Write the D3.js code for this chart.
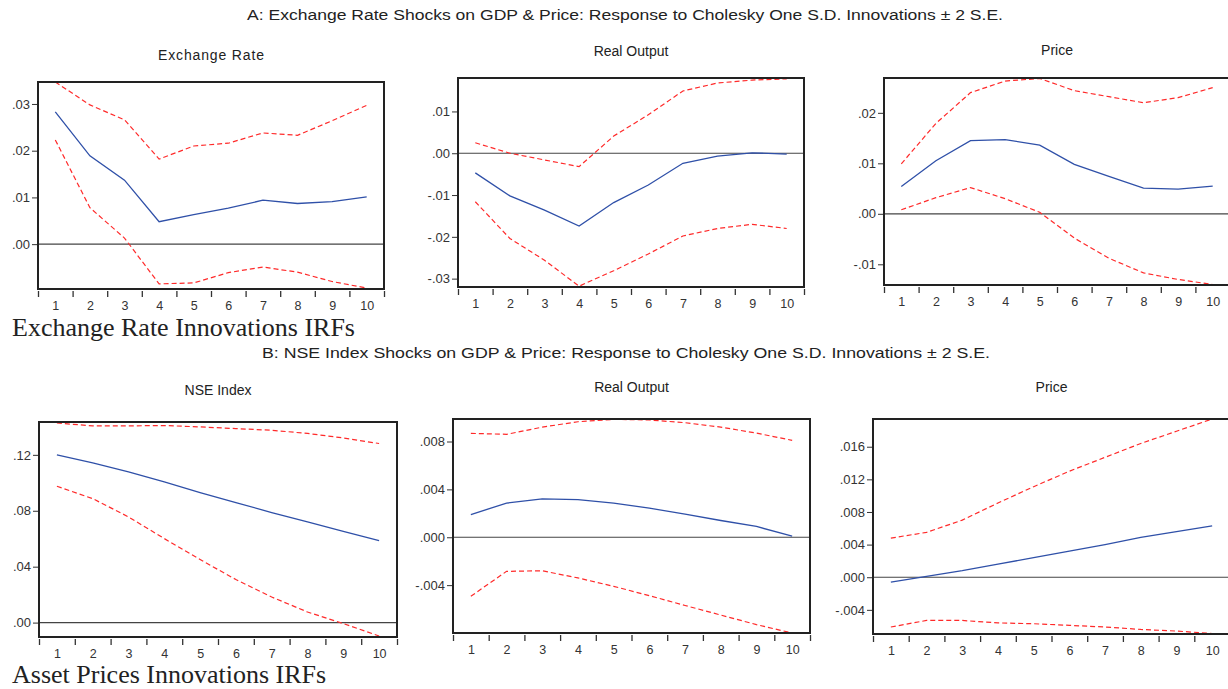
<!DOCTYPE html>
<html>
<head>
<meta charset="utf-8">
<script src="https://cdn.jsdelivr.net/npm/d3@7"></script>
<style>
  body { margin: 0; background: #fff; }
  svg { display: block; font-family: "Liberation Sans", Arial, sans-serif; }
  .tick text { fill: #333; }
</style>
</head>
<body>
<svg id="chart" width="1228" height="689"></svg>
<script>
// periods after the shock
var periods = [1, 2, 3, 4, 5, 6, 7, 8, 9, 10];

// A: exchange rate shock
var exRateResp  = [0.0283, 0.0189, 0.0137, 0.0048, 0.0063, 0.0077, 0.0094, 0.0087, 0.0091, 0.0101];
var exRateUpper = [0.0347, 0.0298, 0.0266, 0.0182, 0.0210, 0.0216, 0.0238, 0.0233, 0.0264, 0.0297];
var exRateLower = [0.0223, 0.0078, 0.0013, -0.0085, -0.0083, -0.0061, -0.0049, -0.0060, -0.0080, -0.0094];

var exOutputResp  = [-0.0047, -0.0102, -0.0136, -0.0174, -0.0118, -0.0076, -0.0024, -0.0007, 0.0001, -0.0002];
var exOutputUpper = [0.0025, 0.0000, -0.0016, -0.0032, 0.0041, 0.0092, 0.0149, 0.0168, 0.0175, 0.0178];
var exOutputLower = [-0.0116, -0.0204, -0.0256, -0.0318, -0.0281, -0.0241, -0.0198, -0.0180, -0.0170, -0.0180];

var exPriceResp  = [0.0054, 0.0105, 0.0145, 0.0147, 0.0136, 0.0098, 0.0074, 0.0051, 0.0049, 0.0055];
var exPriceUpper = [0.0099, 0.0179, 0.0240, 0.0263, 0.0268, 0.0244, 0.0232, 0.0220, 0.0230, 0.0250];
var exPriceLower = [0.0008, 0.0032, 0.0052, 0.0030, 0.0003, -0.0048, -0.0088, -0.0117, -0.0130, -0.0140];

// B: NSE index shock
var nseResp  = [0.1200, 0.1142, 0.1078, 0.1006, 0.0930, 0.0859, 0.0787, 0.0720, 0.0653, 0.0587];
var nseUpper = [0.1428, 0.1407, 0.1407, 0.1410, 0.1400, 0.1388, 0.1376, 0.1353, 0.1321, 0.1281];
var nseLower = [0.0975, 0.0887, 0.0756, 0.0601, 0.0451, 0.0308, 0.0183, 0.0076, -0.0007, -0.0096];

var nseOutputResp  = [0.0019, 0.00285, 0.0032, 0.00315, 0.00285, 0.00243, 0.00193, 0.0014, 0.0009, 0.0001];
var nseOutputUpper = [0.00868, 0.0086, 0.0092, 0.00965, 0.00985, 0.0098, 0.00957, 0.0092, 0.0087, 0.0081];
var nseOutputLower = [-0.00493, -0.00285, -0.0028, -0.0034, -0.0041, -0.00488, -0.0057, -0.0065, -0.0073, -0.0080];

var nsePriceResp  = [-0.0006, 0.0001, 0.0008, 0.0016, 0.0024, 0.0032, 0.0040, 0.0049, 0.0056, 0.0063];
var nsePriceUpper = [0.0048, 0.0055, 0.0070, 0.0091, 0.0111, 0.0130, 0.0147, 0.0164, 0.0179, 0.0194];
var nsePriceLower = [-0.0061, -0.0053, -0.0053, -0.0056, -0.0057, -0.0059, -0.0061, -0.0064, -0.0066, -0.0069];

// y tick labels per panel
var exRateTicks    = [0, 0.01, 0.02, 0.03];
var exOutputTicks  = [-0.03, -0.02, -0.01, 0, 0.01];
var exPriceTicks   = [-0.01, 0, 0.01, 0.02];
var nseTicks       = [0, 0.04, 0.08, 0.12];
var nseOutputTicks = [-0.004, 0, 0.004, 0.008];
var nsePriceTicks  = [-0.004, 0, 0.004, 0.008, 0.012, 0.016];

var svg = d3.select("#chart");

var panels = [
    {title: "Exchange Rate", resp: exRateResp, up: exRateUpper, lo: exRateLower, ticks: exRateTicks, dec: 2,
     box: [38, 82, 384, 289], ydom: [-0.0096, 0.0347], ty: 60, tw: 106},
    {title: "Real Output", resp: exOutputResp, up: exOutputUpper, lo: exOutputLower, ticks: exOutputTicks, dec: 2,
     box: [458, 78, 804, 287], ydom: [-0.032, 0.018], ty: 56},
    {title: "Price", resp: exPriceResp, up: exPriceUpper, lo: exPriceLower, ticks: exPriceTicks, dec: 2,
     box: [884, 78, 1230, 285], ydom: [-0.0141, 0.0269], ty: 55},
    {title: "NSE Index", resp: nseResp, up: nseUpper, lo: nseLower, ticks: nseTicks, dec: 2,
     box: [39, 422, 397, 637], ydom: [-0.0103, 0.1435], ty: 395},
    {title: "Real Output", resp: nseOutputResp, up: nseOutputUpper, lo: nseOutputLower, ticks: nseOutputTicks, dec: 3,
     box: [453, 419, 810, 633], ydom: [-0.008, 0.00988], ty: 392},
    {title: "Price", resp: nsePriceResp, up: nsePriceUpper, lo: nsePriceLower, ticks: nsePriceTicks, dec: 3,
     box: [873, 419, 1230, 634], ydom: [-0.00696, 0.0194], ty: 392}
];

// ".03", "-.004" style labels
function eviewsFmt(dec) {
    return function (v) {
        var s = Math.abs(v).toFixed(dec).replace(/^0/, "");
        return (v < 0 ? "-" : "") + s;
    };
}

function drawPanel(p) {
    var L = p.box[0], T = p.box[1], R = p.box[2], B = p.box[3];
    var x = d3.scaleLinear().domain([0.5, periods.length + 0.5]).range([L, R]);
    var y = d3.scaleLinear().domain(p.ydom).range([B, T]);
    var g = svg.append("g");

    var title = g.append("text")
        .attr("x", (L + R) / 2)
        .attr("y", p.ty)
        .attr("text-anchor", "middle")
        .attr("fill", "#222")
        .style("font-size", "14px")
        .text(p.title);
    if (p.tw) title.attr("textLength", p.tw);

    var clipId = "clip" + L + "_" + T;
    g.append("clipPath").attr("id", clipId)
        .append("rect").attr("x", L).attr("y", T).attr("width", R - L).attr("height", B - T);

    var plot = g.append("g").attr("clip-path", "url(#" + clipId + ")");

    // zero line
    plot.append("line")
        .attr("x1", L).attr("x2", R)
        .attr("y1", y(0)).attr("y2", y(0))
        .attr("stroke", "#444")
        .attr("stroke-width", 1.2);

    var line = d3.line()
        .x(function (d, i) { return x(periods[i]); })
        .y(function (d) { return y(d); });

    [p.up, p.lo].forEach(function (band) {
        plot.append("path")
            .attr("d", line(band))
            .attr("fill", "none")
            .attr("stroke", "#ff2a2a")
            .attr("stroke-width", 1.2)
            .attr("stroke-dasharray", "5,3");
    });

    plot.append("path")
        .attr("d", line(p.resp))
        .attr("fill", "none")
        .attr("stroke", "#2f50a8")
        .attr("stroke-width", 1.3);

    // frame
    g.append("rect")
        .attr("x", L).attr("y", T)
        .attr("width", R - L).attr("height", B - T)
        .attr("fill", "none")
        .attr("stroke", "#222")
        .attr("stroke-width", 2);

    // y axis
    var yAxis = g.append("g")
        .attr("transform", "translate(" + (L - 1) + ",0)")
        .style("font-size", "13px")
        .call(d3.axisLeft(y).tickValues(p.ticks).tickSize(5).tickPadding(2).tickFormat(eviewsFmt(p.dec)));
    yAxis.select(".domain").remove();
    yAxis.selectAll(".tick line").attr("stroke", "#333");

    // x axis: ticks at period edges, labels at period centres
    var edges = periods.map(function (d) { return d - 0.5; }).concat([periods.length + 0.5]);
    var xTicks = g.append("g")
        .attr("transform", "translate(0," + (B + 2) + ")")
        .call(d3.axisBottom(x).tickValues(edges).tickSize(6).tickFormat(""));
    xTicks.select(".domain").remove();
    xTicks.selectAll(".tick line").attr("stroke", "#333").attr("stroke-width", 1.3);

    var xLabels = g.append("g")
        .attr("transform", "translate(0," + (B + 9) + ")")
        .style("font-size", "12.5px")
        .call(d3.axisBottom(x).tickValues(periods).tickSize(0).tickPadding(3).tickFormat(d3.format("d")));
    xLabels.select(".domain").remove();
}

panels.forEach(drawPanel);

// section headings
svg.append("text")
    .attr("x", 247).attr("y", 20)
    .attr("textLength", 756).attr("lengthAdjust", "spacingAndGlyphs")
    .attr("fill", "#222")
    .style("font-size", "14px")
    .text("A:  Exchange Rate Shocks  on GDP & Price: Response to Cholesky One S.D. Innovations \u00b1 2 S.E.");

svg.append("text")
    .attr("x", 262).attr("y", 358)
    .attr("textLength", 728).attr("lengthAdjust", "spacingAndGlyphs")
    .attr("fill", "#222")
    .style("font-size", "14px")
    .text("B:  NSE Index Shocks on GDP & Price: Response to Cholesky One S.D. Innovations \u00b1 2 S.E.");

svg.append("text")
    .attr("x", 12).attr("y", 336)
    .attr("fill", "#222")
    .style("font-family", "'Liberation Serif', 'Times New Roman', serif")
    .style("font-size", "26px")
    .text("Exchange Rate Innovations IRFs");

svg.append("text")
    .attr("x", 12).attr("y", 683)
    .attr("fill", "#222")
    .style("font-family", "'Liberation Serif', 'Times New Roman', serif")
    .style("font-size", "26px")
    .text("Asset Prices Innovations IRFs");
</script>
</body>
</html>
